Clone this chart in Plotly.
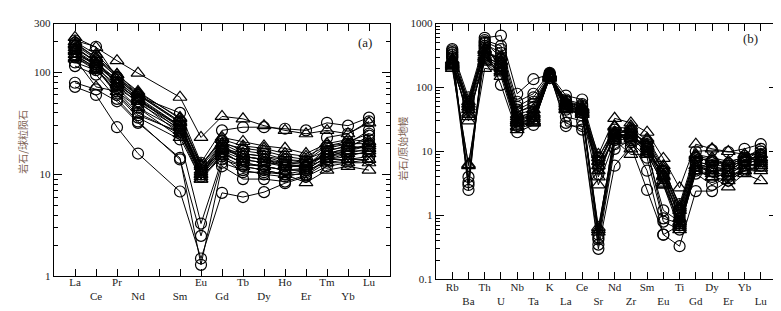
import plotly.graph_objects as go
import numpy as np

# ---------------- Data ----------------
# Panel (a): chondrite-normalised REE (Pm has no data, kept as axis slot)
ree_axis = ["La", "Ce", "Pr", "Nd", "Pm", "Sm", "Eu", "Gd", "Tb", "Dy", "Ho", "Er", "Tm", "Yb", "Lu"]
ree_elements = ["La", "Ce", "Pr", "Nd", "Sm", "Eu", "Gd", "Tb", "Dy", "Ho", "Er", "Tm", "Yb", "Lu"]

ree_circles = [
    [72, 60, 29, 16, 6.8, 1.5, 6.6, 6.0, 6.7, 8.2, 9.5, 12, 13, 14],
    [79, 68, 52, 32, 14.5, 1.3, 12, 9.0, 9.0, 8.5, 9.8, 13, 14, 15],
    [115, 95, 55, 33, 14, 2.5, 13, 11, 10, 9.5, 10.5, 14, 16, 18],
    [140, 110, 60, 36, 22, 3.3, 14, 12, 11, 10, 11, 15, 17, 20],
    [205, 178, 88, 58, 40, 13, 27, 29, 29, 28, 27, 32, 30, 36],
    [150, 120, 85, 55, 30, 12, 20, 16, 15, 13, 13, 23, 25, 33],
    [170, 130, 75, 50, 28, 11, 18, 15, 14, 12, 12, 18, 20, 27],
    [125, 105, 65, 40, 25, 10, 16, 13, 12, 11, 11.5, 16, 18, 24],
    [160, 115, 70, 45, 27, 9.5, 15, 10.5, 10.5, 10, 10, 14, 15, 17],
    [180, 125, 80, 52, 30, 11, 19, 14, 13, 12.5, 12, 17, 19, 22],
    [145, 112, 62, 38, 26, 10.5, 17, 12.5, 12, 11, 11, 15, 17, 19],
    [195, 140, 90, 60, 33, 12.5, 21, 17, 16, 14, 13.5, 19, 21, 25],
]
ree_triangles = [
    [220, 175, 130, 98, 57, 23, 37, 35, 30, 27, 25, 27, 25, 32],
    [190, 140, 95, 65, 35, 12, 23, 21, 19, 18, 16, 20, 22, 21],
    [175, 125, 85, 60, 32, 11, 20, 18, 17, 15, 14, 17, 19, 18],
    [160, 118, 80, 57, 30, 10.5, 18, 16, 15, 14, 13, 15, 16, 16],
    [150, 110, 75, 55, 27, 9.5, 17, 14, 13, 12, 12, 14, 14, 14],
    [140, 105, 70, 52, 25, 9, 16, 13, 12, 11, 11, 13, 13, 13],
    [135, 72, 65, 45, 23, 9, 15, 12, 11, 10, 8.3, 11, 12, 11],
    [185, 135, 90, 62, 33, 10, 19, 15, 14, 13, 12.5, 16, 17, 17],
    [200, 150, 95, 63, 36, 12.5, 22, 19, 18, 16, 15, 19, 20, 20],
    [165, 120, 78, 54, 29, 10, 17.5, 15, 14, 12.5, 12, 16, 18, 19],
]

# Panel (b): primitive-mantle-normalised spider diagram
spider_elements = ["Rb", "Ba", "Th", "U", "Nb", "Ta", "K", "La", "Ce", "Sr",
                   "Nd", "Zr", "Sm", "Eu", "Ti", "Gd", "Dy", "Er", "Yb", "Lu"]

spider_circles = [
    [400, 2.5, 600, 650, 80, 135, 160, 28, 22, 0.30, 6, 12, 2.5, 0.5, 0.33, 2.4, 2.4, 3.5, 5, 6],
    [350, 3.3, 550, 450, 60, 80, 170, 25, 25, 0.35, 11, 15, 5, 0.5, 0.7, 4.5, 3, 4, 5.5, 7],
    [300, 4.0, 500, 300, 40, 55, 150, 45, 40, 0.42, 13, 14, 8, 0.8, 0.6, 5, 4, 4.5, 6, 8],
    [250, 3.0, 450, 200, 25, 35, 140, 60, 50, 0.50, 15, 16, 10, 1.2, 0.8, 6, 5, 5, 7, 9],
    [380, 70, 520, 400, 50, 70, 160, 75, 65, 8, 22, 20, 14, 5, 1.5, 10, 10.5, 9.8, 11, 13],
    [300, 55, 350, 280, 45, 60, 155, 65, 55, 4.4, 18, 18, 12, 4, 1.0, 7, 6, 6, 8, 11],
    [280, 65, 450, 110, 20, 26, 150, 35, 30, 6, 20, 17, 11, 4.5, 1.1, 7, 6, 5, 7, 9],
    [330, 45, 400, 250, 33, 42, 165, 55, 45, 0.45, 16, 19, 11, 0.9, 0.75, 6.5, 5.5, 5.5, 7.5, 10],
    [360, 60, 480, 350, 42, 50, 158, 62, 52, 7, 19, 21, 13, 4.8, 1.2, 8, 7, 6.5, 8.5, 10],
    [320, 50, 420, 220, 30, 38, 148, 50, 44, 5.5, 17, 18, 10, 4.2, 0.9, 6.5, 5.5, 5, 7, 8.5],
]
spider_triangles = [
    [220, 6.0, 300, 200, 30, 30, 150, 50, 40, 0.60, 18, 18, 12, 3, 0.6, 5, 4, 3.5, 5, 5],
    [200, 6.3, 200, 180, 28, 28, 145, 45, 38, 0.55, 20, 20, 10, 3.5, 0.7, 5.5, 5, 4, 5, 6],
    [230, 60, 400, 250, 35, 40, 165, 60, 50, 9, 33, 28, 20, 7.8, 2.7, 13, 11, 10, 9, 9],
    [260, 45, 300, 230, 30, 35, 150, 55, 45, 7, 20, 22, 13, 5, 1.2, 8, 7, 6, 7, 7],
    [240, 35, 280, 180, 25, 30, 145, 50, 42, 5, 17, 25, 11, 4, 0.9, 6, 5, 5, 6, 6],
    [210, 40, 250, 150, 22, 28, 140, 45, 38, 3, 15, 9, 9, 3.2, 0.8, 5, 4, 2.8, 4.5, 3.5],
    [250, 50, 350, 300, 38, 45, 160, 58, 48, 6, 25, 11, 16, 6, 1.3, 9, 8, 7, 8, 8],
    [270, 30, 320, 220, 28, 33, 155, 52, 44, 4, 19, 16, 12, 4.2, 0.65, 6, 5.5, 4.5, 6, 6.5],
    [240, 55, 380, 260, 32, 38, 160, 56, 46, 8, 24, 23, 15, 5.5, 1.4, 8.5, 7.5, 6.5, 7.5, 7.5],
    [225, 38, 260, 170, 24, 29, 142, 47, 40, 0.65, 16, 17, 9.5, 3.0, 0.75, 5, 4.5, 4, 5, 5.5],
]

ree_ticks_y = [1, 10, 100, 300]
spider_ticks_y = [0.1, 1, 10, 100, 1000]

# ---------------- Figure ----------------
fig = go.Figure()
serif = "Liberation Serif, Times New Roman, serif"

def add_series(values, xs, symbol, size, xaxis, yaxis):
    fig.add_trace(go.Scatter(
        x=xs, y=values, mode="lines+markers",
        line=dict(color="black", width=1.0),
        marker=dict(symbol=symbol, size=size, color="black",
                    line=dict(color="black", width=1.2)),
        xaxis=xaxis, yaxis=yaxis, showlegend=False, cliponaxis=False,
        hoverinfo="skip",
    ))

ree_x = [ree_axis.index(e) for e in ree_elements]
for s in ree_circles:
    add_series(s, ree_x, "circle-open", 11, "x", "y")
for s in ree_triangles:
    add_series(s, ree_x, "triangle-up-open", 12, "x", "y")

sp_x = list(range(len(spider_elements)))
for s in spider_circles:
    add_series(s, sp_x, "circle-open", 11, "x2", "y2")
for s in spider_triangles:
    add_series(s, sp_x, "triangle-up-open", 12, "x2", "y2")

def stagger(labels):
    return [lab if i % 2 == 0 else "<br>" + lab for i, lab in enumerate(labels)]

ree_ticktext = stagger(ree_axis)
ree_ticktext[ree_axis.index("Pm")] = ""

axis_common = dict(showline=True, linecolor="black", linewidth=1.4, mirror="ticks",
                   ticks="inside", tickcolor="black", showgrid=False, zeroline=False,
                   tickfont=dict(family=serif, size=11, color="#222"))

def minor_vals(lo, hi):
    vals = []
    for d in range(lo, hi):
        for m in range(2, 10):
            vals.append(m * 10 ** d)
    return vals

fig.update_layout(
    width=781, height=311,
    margin=dict(l=0, r=0, t=0, b=0),
    paper_bgcolor="white", plot_bgcolor="white",
    xaxis=dict(domain=[46 / 781, 382 / 781], range=[-1, 15],
               tickvals=list(range(len(ree_axis))), ticktext=ree_ticktext,
               ticklen=7, ticklabelstandoff=-5, anchor="y", **axis_common),
    yaxis=dict(domain=[1 - 273 / 311, 1 - 10 / 311], type="log",
               range=[0, np.log10(300)], tickvals=ree_ticks_y,
               ticktext=[str(v) for v in ree_ticks_y], ticklen=8,
               minor=dict(tickvals=[v for v in minor_vals(0, 3) if v < 300],
                          ticks="inside", ticklen=4, tickcolor="black"),
               anchor="x", **axis_common),
    xaxis2=dict(domain=[428 / 781, 769 / 781], range=[-1, 20],
                tickvals=sp_x, ticktext=stagger(spider_elements),
                ticklen=7, ticklabelstandoff=-3, anchor="y2", **axis_common),
    yaxis2=dict(domain=[1 - 276 / 311, 1 - 10 / 311], type="log",
                range=[-1, 3], tickvals=spider_ticks_y,
                ticktext=["0.1", "1", "10", "100", "1000"], ticklen=8,
                minor=dict(tickvals=minor_vals(-1, 3),
                           ticks="inside", ticklen=4, tickcolor="black"),
                anchor="x2", **axis_common),
)

title_color = "#7d6253"
cjk = "Noto Sans CJK SC"
fig.add_annotation(text="岩石/球粒陨石", x=15 / 781, y=1 - 133 / 311, xref="paper", yref="paper",
                   xanchor="center", yanchor="middle",
                   textangle=-90, showarrow=False,
                   font=dict(family=cjk, size=10, color=title_color))
fig.add_annotation(text="岩石/原始地幔", x=395 / 781, y=1 - 140 / 311, xref="paper", yref="paper",
                   xanchor="center", yanchor="middle",
                   textangle=-90, showarrow=False,
                   font=dict(family=cjk, size=10, color=title_color))
fig.add_annotation(text="(a)", x=357 / 781, y=1 - 30 / 311, xref="paper", yref="paper",
                   xanchor="center", yanchor="middle",
                   showarrow=False, font=dict(family=serif, size=13, color="#222"))
fig.add_annotation(text="(b)", x=742 / 781, y=1 - 25 / 311, xref="paper", yref="paper",
                   xanchor="center", yanchor="middle",
                   showarrow=False, font=dict(family=serif, size=13, color="#222"))

fig.write_html("out.html")
